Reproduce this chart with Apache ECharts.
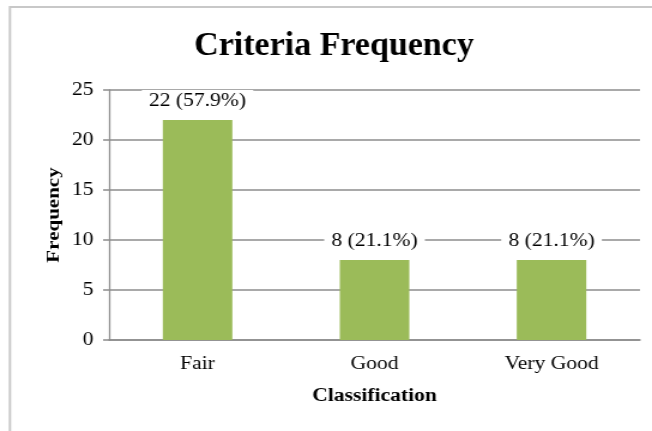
<!DOCTYPE html>
<html><head><meta charset="utf-8">
<script src="https://cdn.jsdelivr.net/npm/echarts@6/dist/echarts.min.js"></script>
<style>
html,body{margin:0;padding:0;background:#fff;overflow:hidden}
#wrap{width:652px;height:431px;overflow:hidden}
#c{width:544px;height:431px;transform:scaleX(1.19853);transform-origin:0 0}
</style>
</head><body><div id="wrap"><div id="c"></div></div>
<script>
const categories = ['Fair', 'Good', 'Very Good'];
const values = [22, 8, 8];
const labels = ['22 (57.9%)', '8 (21.1%)', '8 (21.1%)'];
const titleText = 'Criteria Frequency';
const xName = 'Classification';
const yName = 'Frequency';
const SX = 1.19853;
const chart = echarts.init(document.getElementById('c'));
const font = '"Liberation Serif", "Times New Roman", serif';
chart.setOption({
  animation: false,
  graphic: [
    { type: 'rect', shape: { x: 8.3, y: 7, width: 600, height: 460 }, style: { fill: 'none', stroke: '#c8c8c8', lineWidth: 2 }, silent: true },
    { type: 'text', x: 334 / SX, y: 46, scaleX: 1 / SX, silent: true,
      style: { text: titleText, fontFamily: font, fontSize: 34, fontWeight: 'bold', fill: '#000', align: 'center', verticalAlign: 'middle' } },
    { type: 'text', x: 45, y: 215, rotation: Math.PI / 2, scaleX: 1.4, silent: true,
      style: { text: yName, fontFamily: font, fontSize: 15, fontWeight: 'bold', fill: '#000', align: 'center', verticalAlign: 'middle' } }
  ],
  grid: { left: 91, right: 10, top: 90, bottom: 91 },
  xAxis: {
    type: 'category', data: categories,
    name: xName, nameLocation: 'middle', nameGap: 47,
    nameTextStyle: { fontFamily: font, fontSize: 18, fontWeight: 'bold', color: '#000' },
    axisLine: { lineStyle: { color: '#8c8c8c', width: 1.5 } },
    axisTick: { show: false },
    axisLabel: { fontFamily: font, fontSize: 18, color: '#000', margin: 15 }
  },
  yAxis: {
    type: 'value', min: 0, max: 25, interval: 5,
    axisLine: { show: true, lineStyle: { color: '#8c8c8c', width: 1.3 } },
    axisTick: { show: true, length: 5, lineStyle: { color: '#8c8c8c', width: 1.5 } },
    axisLabel: { fontFamily: font, fontSize: 18, color: '#000', margin: 13 },
    splitLine: { lineStyle: { color: '#8c8c8c', width: 1.5 } }
  },
  series: [{
    type: 'bar', data: values, barWidth: 58,
    itemStyle: { color: '#9BBB59' },
    label: {
      show: true, position: 'top', distance: 8,
      formatter: p => labels[p.dataIndex],
      fontFamily: font, fontSize: 18, color: '#000',
      backgroundColor: '#fff', padding: [2, 6]
    }
  }]
});
</script></body></html>
